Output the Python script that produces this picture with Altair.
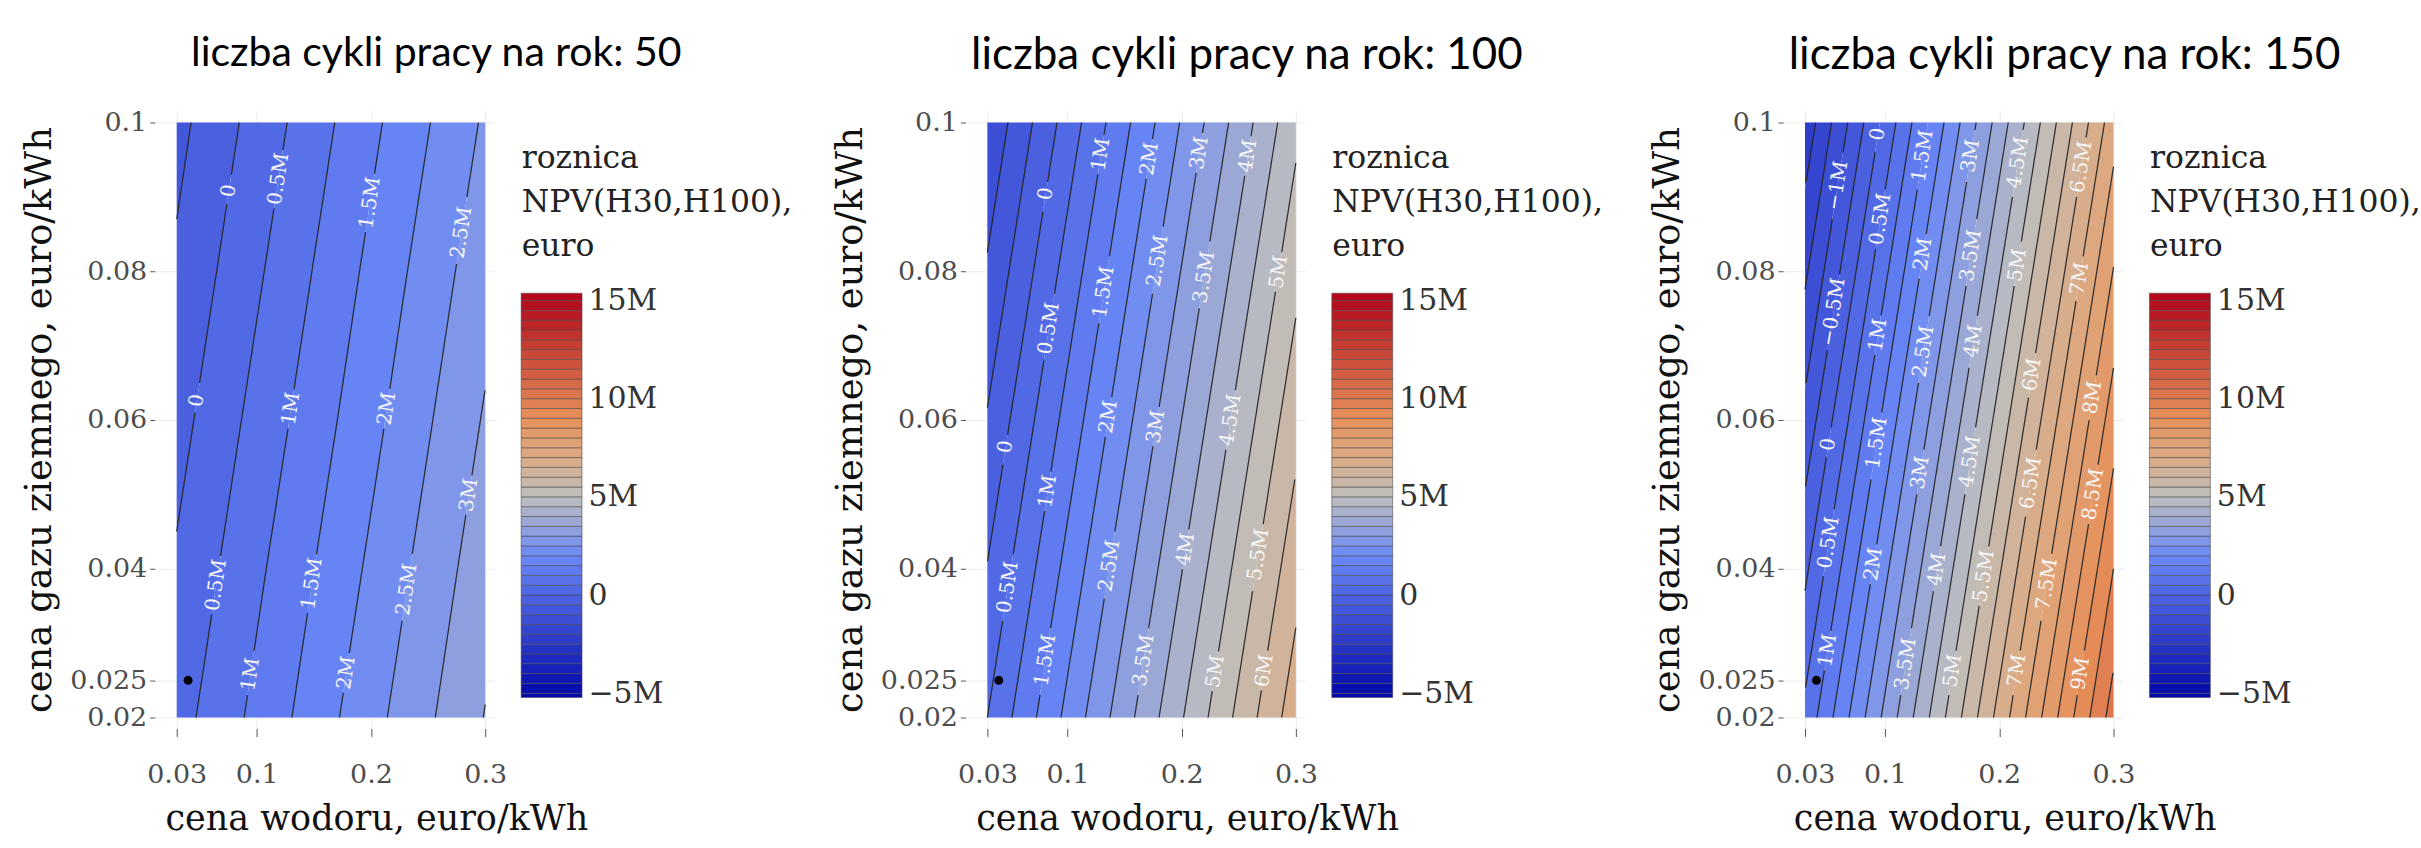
import math
import altair as alt
import numpy as np
import pandas as pd

alt.data_transformers.disable_max_rows()

# ---------------- values ----------------
TITLES = ["liczba cykli pracy na rok: 50",
          "liczba cykli pracy na rok: 100",
          "liczba cykli pracy na rok: 150"]
X_TITLE = "cena wodoru, euro/kWh"
Y_TITLE = "cena gazu ziemnego, euro/kWh"
LEGEND_TITLE = ["roznica", "NPV(H30,H100),", "euro"]

X_NODES = [0.03, 0.1, 0.2, 0.3]            # hydrogen price
Y_NODES = [0.02, 0.04, 0.06, 0.08, 0.1]    # natural gas price
# NPV difference in millions of euro, one row per Y_NODES value
Z_50 = [[0.30, 1.13, 2.33, 3.52],
        [0.06, 0.90, 2.09, 3.29],
        [-0.18, 0.66, 1.85, 3.05],
        [-0.42, 0.42, 1.62, 2.81],
        [-0.65, 0.18, 1.38, 2.57]]
Z_100 = [[0.50, 2.13, 4.46, 6.79],
         [0.02, 1.65, 3.98, 6.31],
         [-0.46, 1.17, 3.50, 5.83],
         [-0.94, 0.69, 3.02, 5.35],
         [-1.42, 0.21, 2.54, 4.87]]
Z_150 = [[0.63, 3.12, 6.68, 10.24],
         [-0.11, 2.38, 5.94, 9.50],
         [-0.85, 1.64, 5.20, 8.76],
         [-1.59, 0.90, 4.46, 8.02],
         [-2.33, 0.16, 3.72, 7.28]]

# contour labels: (level in M, gas price where the label sits)
LABELS_50 = [(0, 0.0908), (0.5, 0.0924), (1.5, 0.0892), (2.5, 0.0852),
             (0, 0.0626), (1, 0.0615), (2, 0.0615), (3, 0.0499),
             (0.5, 0.0378), (1.5, 0.0380), (2.5, 0.0372),
             (1, 0.0258), (2, 0.0260)]
LABELS_100 = [(1, 0.0957), (2, 0.0951), (3, 0.0959), (4, 0.0955), (0, 0.0904),
              (0.5, 0.0723), (1.5, 0.0772), (2.5, 0.0814), (3.5, 0.0792), (5, 0.0799),
              (0, 0.0564), (2, 0.0604), (3, 0.0591), (4.5, 0.0600), (1, 0.0504),
              (0.5, 0.0375), (2.5, 0.0404), (4, 0.0426), (5.5, 0.0419),
              (1.5, 0.0277), (3.5, 0.0277), (5, 0.0262), (6, 0.0263)]
LABELS_150 = [(-1, 0.0915), (0, 0.0984), (1.5, 0.0955), (3, 0.0955), (4.5, 0.0946),
              (6.5, 0.0940), (0.5, 0.0870), (2, 0.0823), (3.5, 0.0821), (5, 0.0808),
              (7, 0.0790), (-0.5, 0.0745), (1, 0.0714), (2.5, 0.0692), (4, 0.0706),
              (6, 0.0661), (8, 0.0630), (0, 0.0567), (1.5, 0.0569), (3, 0.0529),
              (4.5, 0.0544), (6.5, 0.0515), (8.5, 0.0500), (0.5, 0.0435), (2, 0.0406),
              (4, 0.0399), (5.5, 0.0390), (7.5, 0.0379), (1, 0.0290), (3.5, 0.0272),
              (5, 0.0263), (7, 0.0263), (9, 0.0259)]

DOT_X = [0.04]
DOT_Y = [0.025]

X_TICKS = [0.03, 0.1, 0.2, 0.3]
Y_TICKS = [0.02, 0.025, 0.04, 0.06, 0.08, 0.1]
CBAR_TICKS = [-5, 0, 5, 10, 15]
LEVEL_STEP = 0.5
LEVEL_MIN, LEVEL_MAX = -5.0, 15.0
CBAR_RANGE = (-5.22, 15.37)
RDBU_STOPS = [-5, 2, 5, 7, 9, 15]
RDBU_COLORS = ["rgb(5,10,172)", "rgb(106,137,247)", "rgb(190,190,190)",
               "rgb(220,170,132)", "rgb(230,145,90)", "rgb(178,10,28)"]

# ---------------- styling / geometry ----------------
SERIF = "DejaVu Serif"
SANS = "Lato"
TITLE_SIZES = [41, 44, 44]
TICK_SIZE = 27
XTITLE_SIZE = 35
YTITLE_SIZE = 37
LEG_TITLE_SIZE = 31.5
LEG_LABEL_SIZE = 30
LABEL_SIZE = 20

PW_IN, PH_IN = 309, 596          # pixel size of the filled region
EX_L, EX_R = 22, 9               # panel expansion around the filled region
EY_T, EY_B = 12, 11
W, H = PW_IN + EX_L + EX_R, PH_IN + EY_T + EY_B
PPX = PW_IN / (X_NODES[-1] - X_NODES[0])
PPY = PH_IN / (Y_NODES[-1] - Y_NODES[0])
XDOM = [X_NODES[0] - EX_L / PPX, X_NODES[-1] + EX_R / PPX]
YDOM = [Y_NODES[0] - EY_B / PPY, Y_NODES[-1] + EY_T / PPY]

CB_W = 61
CB_GAP = 27
CB_TOP, CB_BOT = 183, 588
CB_PPM = (CB_BOT - CB_TOP) / (CBAR_RANGE[1] - CBAR_RANGE[0])
CB_DOM = [CBAR_RANGE[0] - (H - CB_BOT) / CB_PPM, CBAR_RANGE[1] + CB_TOP / CB_PPM]

LEVELS = [round(v, 3) for v in np.arange(LEVEL_MIN, LEVEL_MAX + 1e-9, LEVEL_STEP)]
BAND_LOWS = [round(v, 3) for v in np.arange(-5.5, 15.5 - 1e-9, LEVEL_STEP)]

COLOR = alt.Color("mid:Q",
                  scale=alt.Scale(domain=RDBU_STOPS, range=RDBU_COLORS,
                                  interpolate="rgb", clamp=True),
                  legend=None)

X_AXIS = alt.Axis(values=X_TICKS, format=".3~f", title=X_TITLE, domain=False,
                  tickSize=8, tickColor="#555555", labelPadding=25, labelFlush=False,
                  labelOverlap=False, labelFont=SERIF, labelFontSize=TICK_SIZE,
                  labelColor="#4d4d4d", titleFont=SERIF, titleFontSize=XTITLE_SIZE,
                  titleFontWeight="normal", titleColor="#111111", titlePadding=14,
                  titleX=EX_L + 200, titleAlign="center",
                  grid=True, gridColor="#ebebeb")
Y_AXIS = alt.Axis(values=Y_TICKS, format=".3~f", title=Y_TITLE, domain=False,
                  tickSize=5, tickColor="#555555", labelPadding=3, labelFlush=False,
                  labelOverlap=False, labelFont=SERIF, labelFontSize=TICK_SIZE,
                  labelColor="#4d4d4d", titleFont=SERIF, titleFontSize=YTITLE_SIZE,
                  titleFontWeight="normal", titleColor="#111111", titlePadding=11,
                  grid=True, gridColor="#ebebeb")
XS = alt.Scale(domain=XDOM, nice=False, zero=False)
YS = alt.Scale(domain=YDOM, nice=False, zero=False)

CH_W = {"0": .636, "1": .636, "2": .636, "3": .636, "4": .636, "5": .636,
        "6": .636, "7": .636, "8": .636, "9": .636, ".": .318, "M": .87, "\u2212": .838}


def fmt(level):
    if level == 0:
        return "0"
    s = f"{abs(level):g}M"
    return ("\u2212" + s) if level < 0 else s


def text_w(s, size):
    return sum(CH_W.get(c, 0.6) for c in s) * size


def panel(Z, labels):
    Z = np.asarray(Z, dtype=float)
    xn = np.asarray(X_NODES)
    yn = np.asarray(Y_NODES)

    def zrow(y):
        return np.array([np.interp(y, yn, Z[:, j]) for j in range(len(xn))])

    def zval(x, y):
        return float(np.interp(x, xn, zrow(y)))

    def xat(y, L):
        return float(np.interp(L, zrow(y), xn))

    def edge_ys(L):
        out = []
        for j in (0, len(xn) - 1):
            col = Z[:, j]
            if col.min() <= L <= col.max():
                out.append(float(np.interp(L, col[::-1], yn[::-1])))
        return out

    ys_base = list(np.round(np.linspace(yn[0], yn[-1], 81), 8))
    edge_all = []
    for L in LEVELS:
        edge_all += edge_ys(L)
    ys = sorted(set(ys_base) | set(np.round(edge_all, 8)))

    # filled bands between consecutive levels
    band_rows = []
    for lo in BAND_LOWS:
        xl = [xat(y, lo) for y in ys]
        xh = [xat(y, lo + LEVEL_STEP) for y in ys]
        if max(b - a for a, b in zip(xl, xh)) <= 1e-9:
            continue
        for y, a, b in zip(ys, xl, xh):
            band_rows.append({"y": y, "xlo": a, "xhi": b, "band": f"b{lo}",
                              "mid": lo + LEVEL_STEP / 2})
    bands = pd.DataFrame(band_rows)

    # labels
    lab_rows, gaps = [], {}
    h = 1e-4
    for L, yc in labels:
        xc = xat(yc, L)
        x1, x2 = max(xc - h, xn[0]), min(xc + h, xn[-1])
        y1, y2 = max(yc - h, yn[0]), min(yc + h, yn[-1])
        dzdx = (zval(x2, yc) - zval(x1, yc)) / (x2 - x1)
        dzdy = (zval(xc, y2) - zval(xc, y1)) / (y2 - y1)
        r = -(dzdy / PPY) / (dzdx / PPX)
        tilt = math.degrees(math.atan(r))
        txt = fmt(L)
        half = text_w(txt, LABEL_SIZE) / 2 + 5
        g = half * math.cos(math.radians(tilt)) / PPY
        gaps.setdefault(L, []).append((yc, g))
        lab_rows.append({"x": xc, "y": yc, "text": txt, "angle": 270 + tilt})
    labs = pd.DataFrame(lab_rows)

    # contour lines (broken where labels sit)
    line_rows = []
    for L in LEVELS:
        gl = gaps.get(L, [])
        cand = set(ys_base) | set(np.round(edge_ys(L), 8))
        for yc, g in gl:
            cand |= {round(yc - g, 8), round(yc + g, 8)}
        seg, prev = 0, False
        for y in sorted(cand):
            if y < yn[0] - 1e-12 or y > yn[-1] + 1e-12:
                prev = False
                continue
            zr = zrow(y)
            inside = zr[0] - 1e-9 <= L <= zr[-1] + 1e-9
            in_gap = any(abs(y - yc) < g - 1e-10 for yc, g in gl)
            if inside and not in_gap:
                if not prev:
                    seg += 1
                line_rows.append({"x": xat(y, L), "y": y, "seg": f"{L}_{seg}"})
                prev = True
            else:
                prev = False
    lines = pd.DataFrame(line_rows)

    dot = pd.DataFrame({"x": DOT_X, "y": DOT_Y})

    area = alt.Chart(bands).mark_area(orient="horizontal").encode(
        y=alt.Y("y:Q", scale=YS, axis=Y_AXIS),
        x=alt.X("xlo:Q", scale=XS, axis=X_AXIS, stack=None),
        x2="xhi:Q",
        color=COLOR,
        detail="band:N",
    )
    cl = alt.Chart(lines).mark_line(color="#1e1e1e", strokeWidth=1.25, opacity=0.9).encode(
        y=alt.Y("y:Q", scale=YS, axis=Y_AXIS),
        x=alt.X("x:Q", scale=XS, axis=X_AXIS),
        detail="seg:N",
        order="y:Q",
    )
    tx = alt.Chart(labs).mark_text(font=SERIF, fontSize=LABEL_SIZE, color="#f6f6f6",
                                   align="center", baseline="middle").encode(
        y=alt.Y("y:Q", scale=YS, axis=Y_AXIS),
        x=alt.X("x:Q", scale=XS, axis=X_AXIS),
        text="text:N",
        angle=alt.Angle("angle:Q", scale=None),
    )
    dt = alt.Chart(dot).mark_circle(size=80, color="black", opacity=1).encode(
        y=alt.Y("y:Q", scale=YS, axis=Y_AXIS),
        x=alt.X("x:Q", scale=XS, axis=X_AXIS),
    )
    return alt.layer(area, cl, tx, dt).properties(width=W, height=H)


def colorbar():
    lows = BAND_LOWS
    cb = pd.DataFrame({"lo": [max(v, CBAR_RANGE[0]) for v in lows],
                       "hi": [min(v + LEVEL_STEP, CBAR_RANGE[1]) for v in lows],
                       "mid": [v + LEVEL_STEP / 2 for v in lows]})
    cb = cb[cb["hi"] > cb["lo"]]
    axis = alt.Axis(orient="right", values=CBAR_TICKS,
                    labelExpr="datum.value == 0 ? '0' : (datum.value < 0 ? '\u2212' + abs(datum.value) + 'M' : datum.value + 'M')",
                    ticks=False, domain=False, grid=False, labelOverlap=False,
                    labelFlush=False, labelFont=SERIF, labelFontSize=LEG_LABEL_SIZE,
                    labelColor="#333333", labelPadding=6,
                    title=LEGEND_TITLE, titleX=-CB_W, titleY=32, titleAngle=0,
                    titleAlign="left", titleBaseline="top", titleLineHeight=44,
                    titleFont=SERIF, titleFontSize=LEG_TITLE_SIZE, titleFontWeight="normal",
                    titleColor="#222222")
    return alt.Chart(cb).mark_rect(stroke="#4a4a4a", strokeWidth=0.7, strokeOpacity=0.8).encode(
        y=alt.Y("lo:Q", scale=alt.Scale(domain=CB_DOM, nice=False, zero=False), axis=axis),
        y2="hi:Q",
        x=alt.value(0),
        x2=alt.value(CB_W),
        color=COLOR,
    ).properties(width=CB_W, height=H)


rows = []
for title, tsize, Z, labels in zip(TITLES, TITLE_SIZES, [Z_50, Z_100, Z_150],
                                   [LABELS_50, LABELS_100, LABELS_150]):
    row = alt.hconcat(panel(Z, labels), colorbar(), spacing=CB_GAP, bounds="flush").resolve_scale(
        x="independent", y="independent").properties(
        title=alt.TitleParams(title, font=SANS, fontSize=tsize, fontWeight="normal",
                              color="black", anchor="middle",
                              offset=34 - round(1.06 * (tsize - TITLE_SIZES[0])), dx=30))
    rows.append(row)

chart = alt.hconcat(alt.hconcat(rows[0], rows[1], spacing=38), rows[2], spacing=45).properties(
    padding={"left": 20, "top": 31, "right": 0, "bottom": 0}
).configure(background="white", font=SERIF, view=alt.ViewConfig(stroke=None))

chart.save("out.html", embed_options={"renderer": "svg", "actions": False})
